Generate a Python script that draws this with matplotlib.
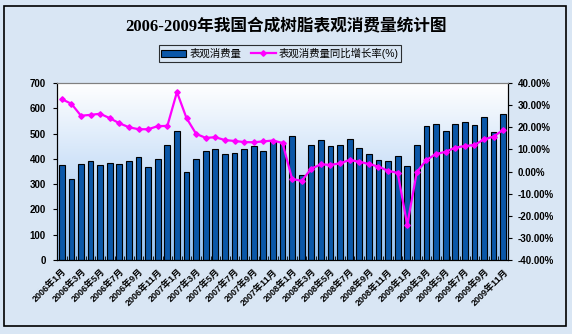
import numpy as np
import matplotlib
matplotlib.use("Agg")
import matplotlib.pyplot as plt
from matplotlib.colors import LinearSegmentedColormap
from matplotlib.patches import Rectangle, Patch
from matplotlib.lines import Line2D
from matplotlib.ticker import FuncFormatter, FixedLocator

plt.rcParams['font.family'] = ['Liberation Sans', 'Noto Sans CJK SC', 'DejaVu Sans']

# monthly data, 2006-01 .. 2009-11
months = [f"{y}年{m}月" for y in range(2006, 2010) for m in range(1, 13)][:47]
consumption = [375, 322, 378, 390, 374, 385, 378, 390, 406, 366, 398, 453,
               509, 350, 399, 431, 438, 418, 422, 438, 451, 431, 469, 466,
               489, 335, 453, 473, 451, 455, 479, 443, 418, 395, 390, 411,
               371, 453, 529, 537, 509, 537, 545, 533, 565, 505, 578]
growth = [32.7, 30.6, 25.2, 25.6, 26.1, 24.1, 21.8, 20.0, 19.1, 19.1, 20.5, 20.6,
          35.9, 24.1, 17.0, 15.2, 15.5, 14.2, 13.8, 13.3, 13.2, 13.6, 14.0, 12.9,
          -3.4, -4.2, 1.3, 3.2, 3.0, 3.7, 5.2, 4.4, 3.4, 2.2, 0.3, -0.6,
          -24.1, -0.2, 5.2, 7.9, 8.9, 10.8, 11.5, 12.0, 14.5, 15.8, 18.8]

bg = '#d9e6f4'
fig = plt.figure(figsize=(5.72, 3.34), dpi=100, facecolor=bg)
ax = fig.add_axes([57/572, 1 - 260/334, 451/572, 177/334])
x = np.arange(len(months))

# white-to-blue gradient behind the bars
grad = LinearSegmentedColormap.from_list('g', ['#94c0f0', '#cbe0f8', '#ffffff'])
ax.imshow(np.linspace(0, 1, 256).reshape(-1, 1)[::-1], cmap=grad, aspect='auto',
          extent=[0, 1, 0, 1], transform=ax.transAxes, zorder=0)

ax.bar(x, consumption, width=0.6, color='#0b57a8', edgecolor='black',
       linewidth=0.8, zorder=2)
ax.set_xlim(-0.5, len(months) - 0.5)
ax.set_ylim(0, 700)
ax.set_yticks(range(0, 701, 100))

ax2 = ax.twinx()
ax2.plot(x, growth, color='#ff00ff', linewidth=1.6, marker='D', markersize=2.8,
         zorder=3)
ax2.set_ylim(-40, 40)
ax2.set_yticks(range(-40, 41, 10))
ax2.yaxis.set_major_formatter(FuncFormatter(lambda v, p: f"{v:.2f}%"))

ax.set_xticks(x[::2])
ax.set_xticklabels(months[::2], rotation=45, ha='right', va='top',
                   rotation_mode='anchor', fontsize=6.5, fontweight='bold')
ax.xaxis.set_minor_locator(FixedLocator(np.arange(-0.5, len(months), 1)))
ax.tick_params(axis='x', which='major', length=0, pad=5)
ax.tick_params(axis='x', which='minor', direction='in', length=3)
ax.tick_params(axis='y', length=3, labelsize=7, pad=5)
ax2.tick_params(axis='y', length=3, labelsize=7, pad=4)
for lbl in ax.get_yticklabels() + ax2.get_yticklabels():
    lbl.set_fontweight('bold')

for a in (ax, ax2):
    a.spines['top'].set_color('#808080')
    for s in ('left', 'right', 'bottom'):
        a.spines[s].set_color('black')
ax2.patch.set_visible(False)

fig.text(286/572, 1 - 27/334, '2006-2009年我国合成树脂表观消费量统计图',
         ha='center', va='center', fontsize=12, fontweight='bold',
         family=['Liberation Serif', 'Noto Sans CJK SC'])

handles = [Patch(facecolor='#0b57a8', edgecolor='black', linewidth=0.8),
           Line2D([], [], color='#ff00ff', linewidth=1.6, marker='D', markersize=2.8)]
leg = fig.legend(handles, ['表观消费量', '表观消费量同比增长率(%)'], ncol=2,
                 loc='center', bbox_to_anchor=(280/572, 1 - 53.5/334),
                 fontsize=7.5, frameon=True, fancybox=False, handlelength=2.4,
                 handletextpad=0.3, columnspacing=0.9, borderpad=0.25)
leg.get_frame().set_edgecolor('black')
leg.get_frame().set_facecolor('none')
leg.get_frame().set_linewidth(0.8)

fig.patches.append(Rectangle((4/572, 8/334), 562/572, 320/334, transform=fig.transFigure,
                             fill=False, edgecolor='black', linewidth=1.2))

fig.savefig('out.png', dpi=100, facecolor=bg)
